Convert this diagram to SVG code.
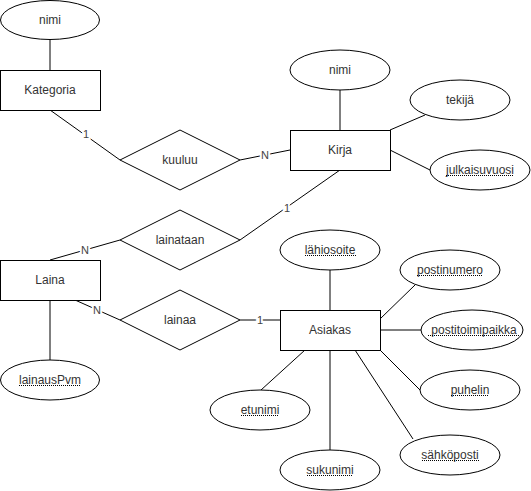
<svg xmlns="http://www.w3.org/2000/svg" width="531" height="491" viewBox="0 0 531 491">
<style>
.shape{fill:#fff;stroke:#000;stroke-width:1}
.t{font-family:"Liberation Sans",Arial,sans-serif;font-size:12px;fill:#333;text-anchor:middle;dominant-baseline:central}
.lbl{font-family:"Liberation Sans",Arial,sans-serif;font-size:11px;fill:#444;text-anchor:middle;dominant-baseline:central;paint-order:stroke;stroke:#fff;stroke-width:4px}
.e{stroke:#000;stroke-width:1;fill:none}
.u{stroke:#000;stroke-width:1;stroke-dasharray:1 1}
</style>
<rect width="531" height="491" fill="#fff"/>
<g id="connectors">
<line class="e" x1="50" y1="40" x2="50" y2="70"/>
<line class="e" x1="50" y1="110" x2="120" y2="160"/>
<line class="e" x1="240" y1="160" x2="290" y2="150"/>
<line class="e" x1="340" y1="90" x2="340" y2="130"/>
<line class="e" x1="390" y1="130" x2="425" y2="115"/>
<line class="e" x1="390" y1="150" x2="430" y2="170"/>
<line class="e" x1="340" y1="170" x2="240" y2="240"/>
<line class="e" x1="50" y1="260" x2="120" y2="240"/>
<line class="e" x1="75" y1="300" x2="120" y2="320"/>
<line class="e" x1="50" y1="300" x2="50" y2="360"/>
<line class="e" x1="240" y1="320" x2="280" y2="320"/>
<line class="e" x1="330" y1="270" x2="330" y2="310"/>
<line class="e" x1="380" y1="319" x2="415" y2="285"/>
<line class="e" x1="380" y1="330" x2="421" y2="330"/>
<line class="e" x1="380" y1="350" x2="420" y2="390"/>
<line class="e" x1="355" y1="350" x2="413" y2="439"/>
<line class="e" x1="330" y1="350" x2="330" y2="450"/>
<line class="e" x1="305" y1="350" x2="261" y2="390"/>
<text class="lbl" x="86" y="134">1</text>
<text class="lbl" x="265" y="155">N</text>
<text class="lbl" x="287" y="208">1</text>
<text class="lbl" x="85" y="250">N</text>
<text class="lbl" x="97" y="310">N</text>
<text class="lbl" x="260" y="320">1</text>
</g>
<g id="kategoria-nimi"><ellipse class="shape" cx="50" cy="20" rx="49.5" ry="19.5"/><text class="t" x="50" y="20">nimi</text></g>
<g id="kategoria"><rect class="shape" x="0.5" y="70.5" width="100" height="40"/><text class="t" x="50" y="90">Kategoria</text></g>
<g id="kuuluu"><polygon class="shape" points="120,160 180,130 240,160 180,190"/><text class="t" x="180" y="160">kuuluu</text></g>
<g id="kirja-nimi"><ellipse class="shape" cx="340" cy="70" rx="50" ry="20"/><text class="t" x="340" y="70">nimi</text></g>
<g id="kirja"><rect class="shape" x="290.5" y="130.5" width="100" height="40"/><text class="t" x="340" y="150">Kirja</text></g>
<g id="tekija"><ellipse class="shape" cx="460" cy="100" rx="50" ry="20"/><text class="t" x="460" y="100">tekijä</text></g>
<g id="julkaisuvuosi"><ellipse class="shape" cx="480" cy="170" rx="50" ry="20"/><text class="t" x="480" y="170">julkaisuvuosi</text><line class="u" x1="446" y1="175.5" x2="513" y2="175.5"/></g>
<g id="lainataan"><polygon class="shape" points="120,240 180,210 240,240 180,270"/><text class="t" x="180" y="240">lainataan</text></g>
<g id="laina"><rect class="shape" x="0.5" y="260.5" width="100" height="40"/><text class="t" x="50" y="280">Laina</text></g>
<g id="lainaa"><polygon class="shape" points="120,320 180,290 240,320 180,350"/><text class="t" x="180" y="320">lainaa</text></g>
<g id="lainausPvm"><ellipse class="shape" cx="50" cy="380" rx="49.5" ry="20"/><text class="t" x="50" y="380">lainausPvm</text><line class="u" x1="19" y1="385.5" x2="81" y2="385.5"/></g>
<g id="asiakas"><rect class="shape" x="280.5" y="310.5" width="100" height="40"/><text class="t" x="330" y="330">Asiakas</text></g>
<g id="lahiosoite"><ellipse class="shape" cx="330" cy="250" rx="50" ry="20"/><text class="t" x="330" y="250">lähiosoite</text><line class="u" x1="305" y1="255.5" x2="356" y2="255.5"/></g>
<g id="postinumero"><ellipse class="shape" cx="450" cy="270" rx="50" ry="20"/><text class="t" x="450" y="270">postinumero</text><line class="u" x1="417" y1="275.5" x2="483" y2="275.5"/></g>
<g id="postitoimipaikka"><ellipse class="shape" cx="472" cy="330" rx="51" ry="20"/><text class="t" x="474" y="330">postitoimipaikka</text><line class="u" x1="428" y1="335.5" x2="520" y2="335.5"/></g>
<g id="puhelin"><ellipse class="shape" cx="470" cy="390" rx="50" ry="20"/><text class="t" x="470" y="390">puhelin</text><line class="u" x1="451" y1="395.5" x2="489" y2="395.5"/></g>
<g id="sahkoposti"><ellipse class="shape" cx="450" cy="455" rx="50" ry="20"/><text class="t" x="450" y="455">sähköposti</text><line class="u" x1="422" y1="460.5" x2="479" y2="460.5"/></g>
<g id="sukunimi"><ellipse class="shape" cx="330" cy="470" rx="50" ry="20"/><text class="t" x="330" y="470">sukunimi</text><line class="u" x1="307" y1="475.5" x2="353" y2="475.5"/></g>
<g id="etunimi"><ellipse class="shape" cx="260" cy="410" rx="50" ry="20"/><text class="t" x="260" y="410">etunimi</text><line class="u" x1="241" y1="415.5" x2="279" y2="415.5"/></g>
</svg>
